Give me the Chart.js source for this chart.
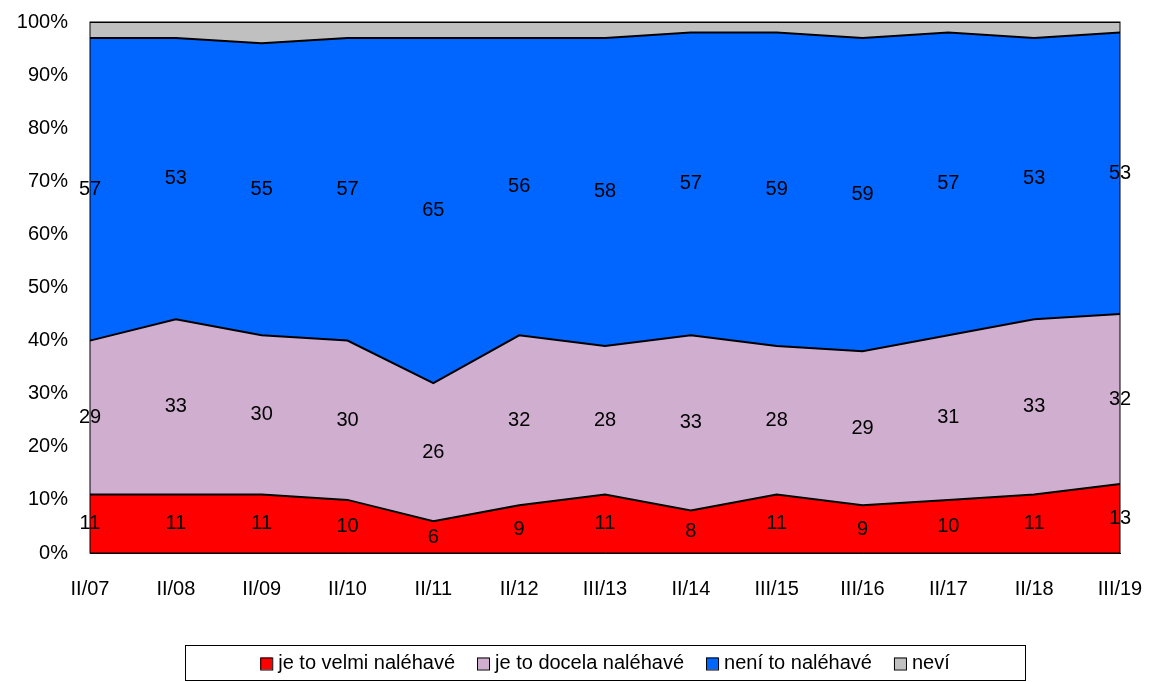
<!DOCTYPE html>
<html>
<head>
<meta charset="utf-8">
<script src="https://cdn.jsdelivr.net/npm/chart.js@4"></script>
<style>
  html, body { margin: 0; padding: 0; background: #fff; }
  #wrap { width: 1149px; height: 682px; }
</style>
</head>
<body>
<div id="wrap"><canvas id="chart"></canvas></div>
<script>
const categories = ['II/07', 'II/08', 'II/09', 'II/10', 'II/11', 'II/12', 'III/13', 'II/14', 'III/15', 'III/16', 'II/17', 'II/18', 'III/19'];
const velmi = [11, 11, 11, 10, 6, 9, 11, 8, 11, 9, 10, 11, 13];
const docela = [29, 33, 30, 30, 26, 32, 28, 33, 28, 29, 31, 33, 32];
const neni = [57, 53, 55, 57, 65, 56, 58, 57, 59, 59, 57, 53, 53];
const nevi = [3, 3, 4, 3, 3, 3, 3, 2, 2, 3, 2, 3, 2];
const yTicks = [0, 10, 20, 30, 40, 50, 60, 70, 80, 90, 100];

const FONT = '20px "Liberation Sans", Arial, sans-serif';
Chart.defaults.font.family = '"Liberation Sans", Arial, sans-serif';
Chart.defaults.font.size = 20;
Chart.defaults.color = '#000';

// numbers in the middle of each band (not for "neví")
const bandLabels = {
  id: 'bandLabels',
  afterDatasetsDraw(chart) {
    const ctx = chart.ctx;
    const x = chart.scales.x, y = chart.scales.y;
    ctx.save();
    ctx.font = FONT;
    ctx.fillStyle = '#000';
    ctx.textAlign = 'center';
    ctx.textBaseline = 'middle';
    for (let i = 0; i < categories.length; i++) {
      let base = 0;
      [velmi, docela, neni].forEach(arr => {
        const v = arr[i];
        ctx.fillText(String(v), x.getPixelForValue(i), y.getPixelForValue(base + v / 2));
        base += v;
      });
    }
    ctx.restore();
  }
};

// plot frame + boxed legend under the chart
const frame = {
  id: 'frame',
  afterDraw(chart) {
    const ctx = chart.ctx, a = chart.chartArea;
    ctx.save();
    ctx.strokeStyle = '#000';
    ctx.lineWidth = 1;
    ctx.strokeRect(a.left, a.top, a.right - a.left, a.bottom - a.top);

    ctx.font = FONT;
    const ds = chart.data.datasets;
    const box = 12, gap = 6, sep = 22;
    const widths = ds.map(d => box + gap + ctx.measureText(d.label).width);
    const total = widths.reduce((s, w) => s + w, 0) + sep * (ds.length - 1);
    const lx = 185, ly = 645, lw = 840, lh = 35;
    ctx.strokeRect(lx + 0.5, ly + 0.5, lw, lh);
    let cx = lx + (lw - total) / 2;
    const cy = ly + lh / 2 + 1;
    ctx.textBaseline = 'middle';
    ds.forEach((d, i) => {
      ctx.fillStyle = d.backgroundColor;
      ctx.fillRect(cx, cy - box / 2, box, box);
      ctx.strokeRect(cx + 0.5, cy - box / 2 + 0.5, box, box);
      ctx.fillStyle = '#000';
      ctx.fillText(d.label, cx + box + gap, cy);
      cx += widths[i] + sep;
    });
    ctx.restore();
  }
};

new Chart(document.getElementById('chart'), {
  type: 'line',
  data: {
    labels: categories,
    datasets: [
      { label: 'je to velmi naléhavé', data: velmi, backgroundColor: '#ff0000', fill: 'origin' },
      { label: 'je to docela naléhavé', data: docela, backgroundColor: '#cfaed0', fill: '-1' },
      { label: 'není to naléhavé', data: neni, backgroundColor: '#0066ff', fill: '-1' },
      { label: 'neví', data: nevi, backgroundColor: '#c0c0c0', fill: '-1' }
    ].map(d => Object.assign(d, { borderColor: '#000', borderWidth: 2, pointRadius: 0, tension: 0 }))
  },
  options: {
    responsive: true,
    maintainAspectRatio: false,
    animation: false,
    layout: { padding: { left: 0, right: 29, top: 22, bottom: 0 } },
    plugins: {
      tooltip: { enabled: false },
      legend: { display: false }
    },
    scales: {
      x: {
        offset: false,
        grid: { display: false },
        border: { color: '#000' },
        ticks: { maxRotation: 0, padding: 16 },
        afterFit(axis) { axis.height = 129; axis.paddingLeft = 0; axis.paddingRight = 0; }
      },
      y: {
        stacked: true,
        min: 0, max: 100,
        afterBuildTicks(axis) { axis.ticks = yTicks.map(v => ({ value: v })); },
        grid: { display: false },
        border: { color: '#000' },
        ticks: { callback: v => v + '%', padding: 14 },
        afterFit(axis) { axis.width = 90; axis.paddingTop = 0; axis.paddingBottom = 0; }
      }
    }
  },
  plugins: [bandLabels, frame]
});
</script>
</body>
</html>
